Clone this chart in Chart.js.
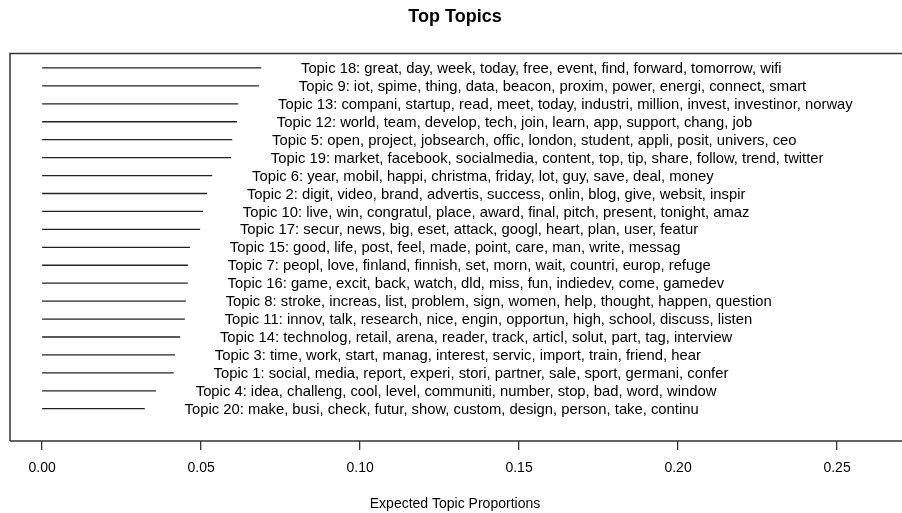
<!DOCTYPE html>
<html>
<head>
<meta charset="utf-8">
<script src="https://cdn.jsdelivr.net/npm/chart.js@4.4.0/dist/chart.umd.min.js"></script>
<style>
  html, body { margin: 0; padding: 0; background: #fff; overflow: hidden; }
  #wrap { width: 902px; height: 513px; }
</style>
</head>
<body>
<div id="wrap"><canvas id="topicChart" width="902" height="513"></canvas></div>
<script>
// topics from top row to bottom row
var topicIds = [18, 9, 13, 12, 5, 19, 6, 2, 10, 17, 15, 7, 16, 8, 11, 14, 3, 1, 4, 20];
var topicWords = [
  ['great', 'day', 'week', 'today', 'free', 'event', 'find', 'forward', 'tomorrow', 'wifi'],
  ['iot', 'spime', 'thing', 'data', 'beacon', 'proxim', 'power', 'energi', 'connect', 'smart'],
  ['compani', 'startup', 'read', 'meet', 'today', 'industri', 'million', 'invest', 'investinor', 'norway'],
  ['world', 'team', 'develop', 'tech', 'join', 'learn', 'app', 'support', 'chang', 'job'],
  ['open', 'project', 'jobsearch', 'offic', 'london', 'student', 'appli', 'posit', 'univers', 'ceo'],
  ['market', 'facebook', 'socialmedia', 'content', 'top', 'tip', 'share', 'follow', 'trend', 'twitter'],
  ['year', 'mobil', 'happi', 'christma', 'friday', 'lot', 'guy', 'save', 'deal', 'money'],
  ['digit', 'video', 'brand', 'advertis', 'success', 'onlin', 'blog', 'give', 'websit', 'inspir'],
  ['live', 'win', 'congratul', 'place', 'award', 'final', 'pitch', 'present', 'tonight', 'amaz'],
  ['secur', 'news', 'big', 'eset', 'attack', 'googl', 'heart', 'plan', 'user', 'featur'],
  ['good', 'life', 'post', 'feel', 'made', 'point', 'care', 'man', 'write', 'messag'],
  ['peopl', 'love', 'finland', 'finnish', 'set', 'morn', 'wait', 'countri', 'europ', 'refuge'],
  ['game', 'excit', 'back', 'watch', 'dld', 'miss', 'fun', 'indiedev', 'come', 'gamedev'],
  ['stroke', 'increas', 'list', 'problem', 'sign', 'women', 'help', 'thought', 'happen', 'question'],
  ['innov', 'talk', 'research', 'nice', 'engin', 'opportun', 'high', 'school', 'discuss', 'listen'],
  ['technolog', 'retail', 'arena', 'reader', 'track', 'articl', 'solut', 'part', 'tag', 'interview'],
  ['time', 'work', 'start', 'manag', 'interest', 'servic', 'import', 'train', 'friend', 'hear'],
  ['social', 'media', 'report', 'experi', 'stori', 'partner', 'sale', 'sport', 'germani', 'confer'],
  ['idea', 'challeng', 'cool', 'level', 'communiti', 'number', 'stop', 'bad', 'word', 'window'],
  ['make', 'busi', 'check', 'futur', 'show', 'custom', 'design', 'person', 'take', 'continu']
];
var proportions = [0.0689, 0.0682, 0.0617, 0.0613, 0.0598, 0.0594, 0.0535, 0.0519, 0.0506, 0.0497,
                   0.0465, 0.0459, 0.0458, 0.0452, 0.0449, 0.0434, 0.0418, 0.0414, 0.0358, 0.0323];
var xTicks = [0, 0.05, 0.10, 0.15, 0.20, 0.25];

var FONT = '"Liberation Sans", Arial, Helvetica, sans-serif';
var labelGap = 0.01; // label sits a bit right of the line end, in data units
// row position on the y scale: top row highest
var rowPos = topicIds.map(function(id, i) { return topicIds.length - i; });

var topicLabels = {
  id: 'topicLabels',
  afterDatasetsDraw: function(chart) {
    var ctx = chart.ctx, x = chart.scales.x, y = chart.scales.y;
    ctx.save();
    ctx.font = '14.8px ' + FONT;
    ctx.fillStyle = '#000';
    ctx.textAlign = 'left';
    ctx.textBaseline = 'middle';
    topicIds.forEach(function(id, i) {
      var px = x.getPixelForValue(proportions[i] + labelGap) + 8;
      var py = y.getPixelForValue(rowPos[i]) + 1;
      ctx.fillText('Topic ' + id + ': ' + topicWords[i].join(', '), px, py);
    });
    ctx.restore();
  }
};

// plot frame: left and top sides (bottom is the x axis line, right side is cut off)
var plotFrame = {
  id: 'plotFrame',
  afterDraw: function(chart) {
    var ctx = chart.ctx, a = chart.chartArea;
    ctx.save();
    ctx.strokeStyle = '#333';
    ctx.lineWidth = 1.5;
    ctx.beginPath();
    ctx.moveTo(a.left, a.bottom);
    ctx.lineTo(a.left, a.top);
    ctx.lineTo(chart.width, a.top);
    ctx.moveTo(a.left, a.bottom);
    ctx.lineTo(chart.width, a.bottom);
    ctx.stroke();
    ctx.restore();
  }
};

var datasets = topicIds.map(function(id, i) {
  return {
    label: 'Topic ' + id,
    data: [{ x: 0, y: rowPos[i] }, { x: proportions[i], y: rowPos[i] }],
    showLine: true,
    pointRadius: 0,
    borderColor: '#222',
    borderWidth: 1.3
  };
});

new Chart(document.getElementById('topicChart').getContext('2d'), {
  type: 'scatter',
  data: { datasets: datasets },
  options: {
    responsive: false,
    animation: false,
    devicePixelRatio: 1,
    layout: { padding: { left: 10, right: 2, top: 0, bottom: 0 } },
    plugins: {
      legend: { display: false },
      tooltip: { enabled: false },
      title: {
        display: true,
        text: 'Top Topics',
        color: '#000',
        font: { family: FONT, size: 18, weight: 'bold' },
        padding: { top: 6, bottom: 26 }
      }
    },
    scales: {
      x: {
        type: 'linear',
        min: -0.0101,
        max: 0.2698,
        afterBuildTicks: function(scale) {
          scale.ticks = xTicks.map(function(v) { return { value: v }; });
        },
        afterFit: function(scale) { scale.height = 72; },
        border: { display: false },
        grid: { display: true, drawOnChartArea: false, drawTicks: true, tickLength: 9, color: '#333', lineWidth: 1.3 },
        ticks: {
          color: '#000',
          padding: 10,
          font: { family: FONT, size: 14 },
          maxRotation: 0,
          autoSkip: false,
          callback: function(v) { return Number(v).toFixed(2); }
        },
        title: {
          display: true,
          text: 'Expected Topic Proportions',
          color: '#000',
          font: { family: FONT, size: 14 },
          padding: { top: 0, bottom: 0 }
        }
      },
      y: {
        type: 'linear',
        min: -0.8,
        max: 20.8,
        display: false
      }
    }
  },
  plugins: [topicLabels, plotFrame]
});
</script>
</body>
</html>
